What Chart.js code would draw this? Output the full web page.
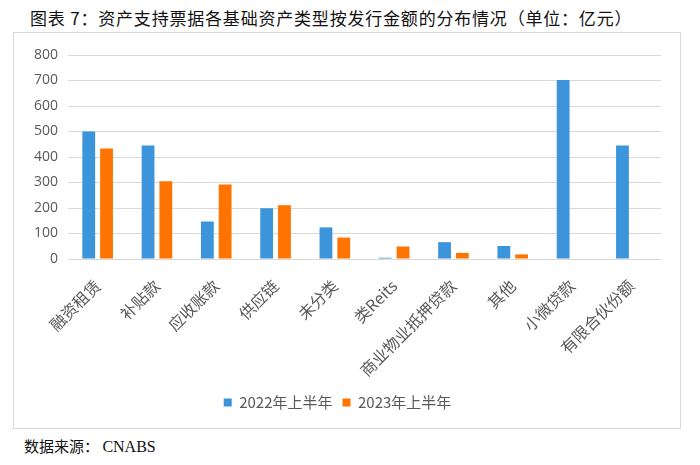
<!DOCTYPE html>
<html>
<head>
<meta charset="utf-8">
<script src="https://cdn.jsdelivr.net/npm/chart.js@4"></script>
<style>
  body { margin: 0; background: #fff; width: 700px; height: 465px; position: relative; overflow: hidden; }
  #title { position: absolute; left: 30px; top: 5px; font-family: "Noto Sans CJK SC"; font-size: 17px; color: #111; letter-spacing: 0.8px; }
  #box { position: absolute; left: 13px; top: 32px; width: 666px; height: 395px; border: 1px solid #d9d9d9; }
  #source { position: absolute; left: 24px; top: 435px; font-family: "Noto Sans CJK SC"; font-size: 15px; color: #111; }
  #source span { font-family: "Liberation Serif"; font-size: 16px; }
</style>
</head>
<body>
<div id="title">图表 7：资产支持票据各基础资产类型按发行金额的分布情况（单位：亿元）</div>
<div id="box"><canvas id="myChart" width="666" height="395"></canvas></div>
<div id="source">数据来源： <span>CNABS</span></div>
<script>
// categories and values (亿元)
const categories = ['融资租赁', '补贴款', '应收账款', '供应链', '未分类', '类Reits', '商业物业抵押贷款', '其他', '小微贷款', '有限合伙份额'];
const h1_2022 = [500, 445, 147, 199, 124, 5, 66, 51, 702, 445];
const h1_2023 = [433, 305, 292, 211, 84, 49, 24, 18, 0, 0];
const seriesNames = ['2022年上半年', '2023年上半年'];
const yTicks = [0, 100, 200, 300, 400, 500, 600, 700, 800];

const data = {
  labels: categories,
  datasets: [
    {
      label: seriesNames[0],
      data: h1_2022,
      backgroundColor: '#3C94DB',
      categoryPercentage: 0.6,
      barPercentage: 0.72
    },
    {
      label: seriesNames[1],
      data: h1_2023,
      backgroundColor: '#FF7400',
      categoryPercentage: 0.6,
      barPercentage: 0.72
    }
  ]
}

const config = {
  type: 'bar',
  data: data,
  options: {
    responsive: false,
    animation: false,
    layout: { padding: { top: 22, right: 19, bottom: 8, left: 0 } },
    scales: {
      x: {
        grid: { display: false },
        border: { display: false },
        ticks: {
          color: '#595959',
          font: { family: 'Noto Sans CJK SC', size: 16 },
          minRotation: 45,
          maxRotation: 45,
          padding: 9
        },
        afterFit: (scale) => { scale.height = 126; }
      },
      y: {
        min: 0,
        max: 800,
        afterBuildTicks: (scale) => { scale.ticks = yTicks.map(v => ({ value: v })); },
        grid: { color: '#d9d9d9', lineWidth: 1, drawTicks: false },
        border: { display: false },
        ticks: {
          color: '#595959',
          font: { family: 'Open Sans', size: 14 },
          padding: 10
        },
        afterFit: (scale) => { scale.width = 54; }
      }
    },
    plugins: {
      legend: {
        position: 'bottom',
        labels: {
          color: '#595959',
          font: { family: 'Noto Sans CJK SC', size: 15 },
          boxWidth: 8,
          boxHeight: 8,
          padding: 10
        }
      },
      tooltip: { enabled: false }
    }
  }
};

const myChart = new Chart(document.getElementById('myChart'), config);
</script>
</body>
</html>
